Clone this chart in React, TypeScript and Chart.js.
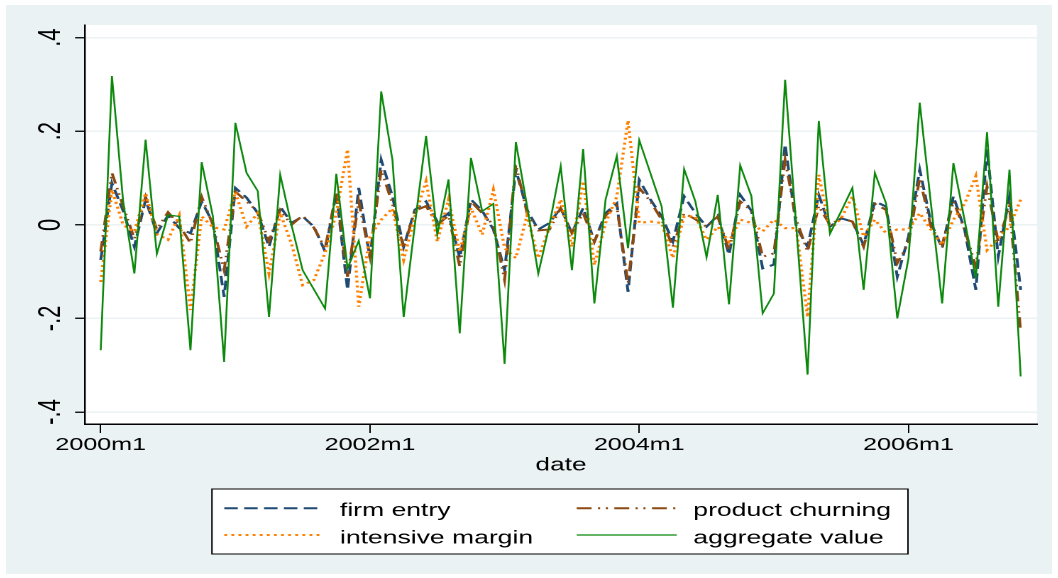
import React, { useEffect, useRef } from "react";
import { Chart, registerables } from "chart.js";

Chart.register(...registerables);

// ---------- data ----------
// monthly dates 2000m1 .. 2006m11 (83 months); x = month index since 2000m1
const dates: string[] = [];
for (let y = 2000; y <= 2006; y++) {
  for (let m = 1; m <= 12; m++) {
    if (y === 2006 && m > 11) break;
    dates.push(`${y}m${m}`);
  }
}

const firmEntry = [
  -0.075, 0.089, 0.03, -0.047, 0.054, -0.018, 0.02, -0.007, -0.018, 0.05,
  0.004, -0.154, 0.079, 0.058, 0.025, -0.047, 0.039, 0.004, 0.018, -0.004,
  -0.057, 0.068, -0.139, 0.079, -0.071, 0.139, 0.061, -0.047, 0.032, 0.05,
  0.007, 0.025, -0.071, 0.054, 0.03, -0.01, -0.097, 0.118, 0.032, -0.01,
  0.004, 0.036, -0.018, 0.036, -0.036, 0.025, 0.046, -0.143, 0.096, 0.054,
  0.018, -0.036, 0.061, 0.025, -0.004, 0.02, -0.064, 0.064, 0.03, -0.093,
  -0.085, 0.172, -0.004, -0.047, 0.064, -0.004, 0.014, 0.007, -0.043, 0.05,
  0.039, -0.111, -0.025, 0.118, 0.004, -0.05, 0.061, -0.01, -0.139, 0.161,
  -0.068, 0.061, -0.139,
];

const productChurning = [
  -0.057, 0.111, 0.04, -0.03, 0.06, -0.01, 0.027, 0.0, -0.039, 0.06,
  0.0, -0.097, 0.071, 0.05, 0.028, -0.035, 0.032, 0.0, 0.02, -0.006,
  -0.05, 0.068, -0.111, 0.05, -0.068, 0.118, 0.045, -0.05, 0.03, 0.04,
  0.0, 0.02, -0.089, 0.05, 0.025, 0.0, -0.118, 0.129, 0.025, -0.012,
  -0.01, 0.036, -0.018, 0.025, -0.036, 0.02, 0.04, -0.125, 0.079, 0.05,
  0.011, -0.047, 0.025, 0.012, -0.004, 0.018, -0.054, 0.05, 0.03, -0.068,
  -0.061, 0.139, 0.011, -0.057, 0.04, 0.0, 0.014, 0.007, -0.047, 0.045,
  0.032, -0.082, -0.039, 0.1, -0.004, -0.043, 0.05, -0.01, -0.089, 0.082,
  -0.036, 0.04, -0.229,
];

const intensiveMargin = [
  -0.122, 0.075, 0.0, -0.015, 0.068, -0.02, -0.032, 0.02, -0.182, 0.018,
  -0.005, -0.01, 0.07, -0.004, 0.025, -0.104, 0.025, -0.04, -0.129, -0.118,
  -0.06, 0.025, 0.161, -0.175, -0.025, 0.011, 0.035, -0.075, 0.018, 0.093,
  -0.036, 0.054, -0.057, 0.036, -0.021, 0.075, -0.05, -0.071, 0.02, -0.071,
  -0.005, 0.054, -0.047, 0.093, -0.086, 0.004, 0.06, 0.223, 0.004, 0.007,
  0.004, -0.071, 0.018, 0.018, -0.032, -0.004, -0.036, 0.011, 0.004, -0.014,
  0.011, -0.007, -0.007, -0.197, 0.107, -0.01, 0.014, 0.061, -0.025, 0.011,
  -0.018, -0.01, -0.01, 0.025, -0.01, -0.043, 0.011, 0.045, 0.104, -0.054,
  -0.029, -0.004, 0.054,
];

const aggregateValue = [
  -0.268, 0.318, 0.05, -0.104, 0.182, -0.062, 0.021, 0.018, -0.268, 0.134,
  0.018, -0.293, 0.218, 0.111, 0.072, -0.197, 0.107, 0.0, -0.097, -0.138,
  -0.179, 0.109, -0.093, -0.034, -0.157, 0.285, 0.139, -0.197, 0.0, 0.19,
  -0.021, 0.097, -0.232, 0.143, 0.029, 0.045, -0.297, 0.177, 0.04, -0.104,
  0.0, 0.125, -0.097, 0.162, -0.168, 0.054, 0.147, -0.05, 0.181, 0.11,
  0.039, -0.177, 0.119, 0.05, -0.069, 0.064, -0.17, 0.127, 0.061, -0.189,
  -0.147, 0.31, -0.005, -0.32, 0.222, -0.019, 0.029, 0.079, -0.139, 0.111,
  0.046, -0.2, -0.071, 0.261, 0.045, -0.168, 0.132, 0.01, -0.114, 0.198,
  -0.175, 0.118, -0.324,
];

const xTickValues = [0, 24, 48, 72];
const xTickLabels = ["2000m1", "2002m1", "2004m1", "2006m1"];
const yTickValues = [-0.4, -0.2, 0, 0.2, 0.4];
const yTickLabels = ["-.4", "-.2", "0", ".2", ".4"];

// ---------- layout ----------
const OUT_W = 1046;
const OUT_H = 569;
const LW = 737; // logical canvas width (stretched horizontally to OUT_W)
const STRETCH = OUT_W / LW;
const FONT = "'Liberation Sans', Arial, Helvetica, sans-serif";
const BG = "#eaf2f3";

const toXY = (arr: number[]) => arr.map((v, i) => ({ x: i, y: v }));

const bgPlugin = {
  id: "stataBg",
  beforeDraw(chart: any) {
    const { ctx, chartArea: a, width, height } = chart;
    ctx.save();
    ctx.fillStyle = BG;
    ctx.fillRect(0, 0, width, height);
    ctx.fillStyle = "#ffffff";
    ctx.fillRect(a.left, a.top, a.right - a.left, a.bottom - a.top);
    ctx.restore();
  },
};

const legendPlugin = {
  id: "stataLegend",
  afterDraw(chart: any) {
    const { ctx } = chart;
    const box = { x: 145.1, y: 484, w: 490.4, h: 65 };
    ctx.save();
    ctx.fillStyle = "#ffffff";
    ctx.fillRect(box.x, box.y, box.w, box.h);
    ctx.strokeStyle = "#000";
    ctx.lineWidth = 1;
    ctx.strokeRect(box.x, box.y, box.w, box.h);
    const cols = [
      { s0: 153.8, s1: 223.6, tx: 235.3 },
      { s0: 402.1, s1: 472.6, tx: 484.3 },
    ];
    const rows = [
      { ly: 503.3, ty: 511 },
      { ly: 530, ty: 538.3 },
    ];
    chart.data.datasets.forEach((ds: any, k: number) => {
      const c = cols[k % 2];
      const r = rows[Math.floor(k / 2)];
      ctx.save();
      ctx.strokeStyle = ds.borderColor;
      ctx.lineWidth = Math.min(ds.borderWidth, 2);
      ctx.setLineDash(ds.borderDash || []);
      ctx.lineCap = "butt";
      ctx.beginPath();
      ctx.moveTo(c.s0, r.ly);
      ctx.lineTo(c.s1, r.ly);
      ctx.stroke();
      ctx.restore();
      ctx.fillStyle = "#000";
      ctx.font = `18.7px ${FONT}`;
      ctx.textAlign = "left";
      ctx.textBaseline = "alphabetic";
      ctx.fillText(ds.label, c.tx, r.ty);
    });
    ctx.restore();
  },
};

export default function App() {
  const ref = useRef<HTMLCanvasElement | null>(null);

  useEffect(() => {
    if (!ref.current) return;
    const chart = new Chart(ref.current, {
      type: "line",
      data: {
        datasets: [
          {
            label: "firm entry",
            data: toXY(firmEntry),
            borderColor: "#1f4a73",
            borderWidth: 2,
            borderDash: [9.5, 4.5],
            pointRadius: 0,
            tension: 0,
            order: 3,
          },
          {
            label: "product churning",
            data: toXY(productChurning),
            borderColor: "#8c4a12",
            borderWidth: 2,
            borderDash: [10.5, 4.5, 1.5, 4, 1.5, 4.5],
            pointRadius: 0,
            tension: 0,
            order: 2,
          },
          {
            label: "intensive margin",
            data: toXY(intensiveMargin),
            borderColor: "#ff8000",
            borderWidth: 2.2,
            borderDash: [2, 3],
            pointRadius: 0,
            tension: 0,
            order: 1,
          },
          {
            label: "aggregate value",
            data: toXY(aggregateValue),
            borderColor: "#0b880b",
            borderWidth: 1.3,
            pointRadius: 0,
            tension: 0,
            order: 0,
          },
        ],
      },
      options: {
        responsive: false,
        animation: false,
        devicePixelRatio: 2,
        font: { family: FONT },
        layout: { padding: { left: 0, top: 20, right: 10.6, bottom: 97.7 } },
        plugins: {
          legend: { display: false },
          tooltip: { enabled: false },
          title: { display: false },
        },
        scales: {
          x: {
            type: "linear",
            min: -1.4,
            max: 83.45,
            afterBuildTicks: (s: any) => {
              s.ticks = xTickValues.map((v) => ({ value: v }));
            },
            afterFit: (s: any) => {
              s.height = 52.3;
            },
            ticks: {
              callback: (_v: any, i: number) => xTickLabels[i],
              autoSkip: false,
              minRotation: 0,
              maxRotation: 0,
              padding: 1.6,
              color: "#000",
              font: { family: FONT, size: 17.7 },
            },
            grid: {
              drawOnChartArea: false,
              drawTicks: true,
              tickLength: 9,
              tickColor: "#000",
              tickWidth: 1,
            },
            border: { display: true, color: "#000", width: 1.5 },
            title: {
              display: true,
              text: "date",
              color: "#000",
              font: { family: FONT, size: 18.5 },
              padding: { top: 0, bottom: 0 },
            },
          },
          y: {
            type: "linear",
            min: -0.4256,
            max: 0.427,
            afterBuildTicks: (s: any) => {
              s.ticks = yTickValues.map((v) => ({ value: v }));
            },
            afterFit: (s: any) => {
              s.width = 55.66;
            },
            ticks: {
              callback: (_v: any, i: number) => yTickLabels[i],
              minRotation: 90,
              maxRotation: 90,
              crossAlign: "center",
              padding: 3.8,
              color: "#000",
              font: { family: FONT, size: 22 },
            },
            grid: {
              color: BG,
              lineWidth: 1.5,
              drawTicks: true,
              tickLength: 7,
              tickColor: "#000",
              tickWidth: 1.3,
            },
            border: { display: true, color: "#000", width: 1.2 },
          },
        },
      } as any,
      plugins: [bgPlugin, legendPlugin],
    });
    return () => chart.destroy();
  }, []);

  return (
    <div
      style={{
        position: "absolute",
        left: 6,
        top: 5,
        width: OUT_W,
        height: OUT_H,
        overflow: "hidden",
        background: BG,
      }}
    >
      <div
        style={{
          width: LW,
          height: OUT_H,
          transform: `scaleX(${STRETCH})`,
          transformOrigin: "0 0",
        }}
      >
        <canvas ref={ref} width={LW} height={OUT_H} />
      </div>
    </div>
  );
}
